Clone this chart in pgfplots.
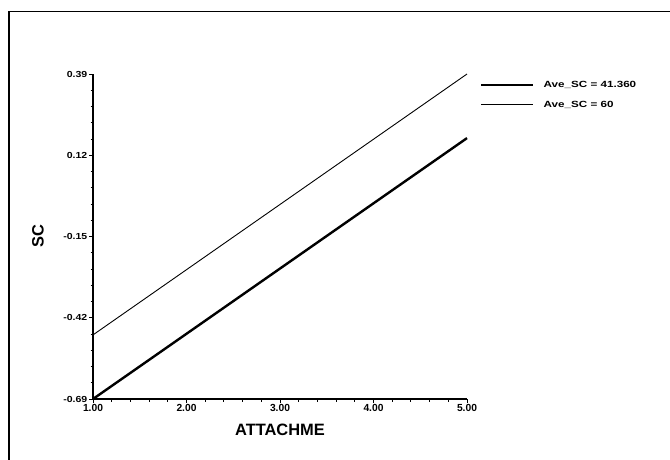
\documentclass[border=0pt]{standalone}
\usepackage{fontspec}
\setmainfont{Liberation Sans}
\newfontfamily\legfont{Liberation Sans}[FakeStretch=1.3]
\newfontfamily\ylfont{Liberation Sans}[FakeStretch=1.2]
\usepackage{pgfplots}
\pgfplotsset{compat=1.18}
\begin{document}
\begin{tikzpicture}
\useasboundingbox (0bp,0bp) rectangle (670bp,-460bp);
\draw[line width=1.2bp] (9bp,-460bp) -- (9bp,-11.5bp) -- (670bp,-11.5bp);
\begin{axis}[
  at={(93bp,-399bp)}, anchor=south west,
  scale only axis, width=374bp, height=325bp,
  xmin=1, xmax=5, ymin=-0.69, ymax=0.39,
  axis x line=bottom, axis y line=left,
  axis line style={-, line width=1.3bp},
  xtick={1,2,3,4,5}, xticklabels={1.00,2.00,3.00,4.00,5.00},
  ytick={-0.69,-0.42,-0.15,0.12,0.39}, yticklabels={-0.69,-0.42,-0.15,0.12,0.39},
  minor tick num=4,
  tick align=outside,
  major tick length=4bp, minor tick length=2.5bp,
  tick style={line width=1bp, black},
  x tick label style={font=\fontsize{10.3}{10}\selectfont\bfseries, inner sep=1.5bp},
  y tick label style={font=\ylfont\fontsize{8.8}{9}\selectfont\bfseries, inner sep=1.5bp},
  xlabel={ATTACHME}, ylabel={SC},
  xlabel style={at={(axis description cs:0.5,0)}, anchor=center, yshift=-31bp, font=\fontsize{16.5}{17}\selectfont\bfseries},
  ylabel style={at={(axis description cs:0,0.5)}, anchor=center, yshift=55bp, font=\fontsize{16.5}{17}\selectfont\bfseries},
  clip=false,
  legend style={at={(axis description cs:1.035,0.985)}, anchor=north west, draw=none, fill=none,
    font=\legfont\fontsize{9}{10}\selectfont\bfseries, row sep=8bp, inner sep=0pt},
  legend cell align=left,
  legend image code/.code={\draw[#1] (0bp,0bp) -- (52bp,0bp); \path (59bp,0bp);},
]
\addplot[black, line width=2.4bp] coordinates {(1,-0.69) (5,0.177)};
\addlegendentry{Ave\_SC = 41.360}
\addplot[black, line width=0.9bp] coordinates {(1,-0.477) (5,0.39)};
\addlegendentry{Ave\_SC = 60}
\end{axis}
\end{tikzpicture}
\end{document}
